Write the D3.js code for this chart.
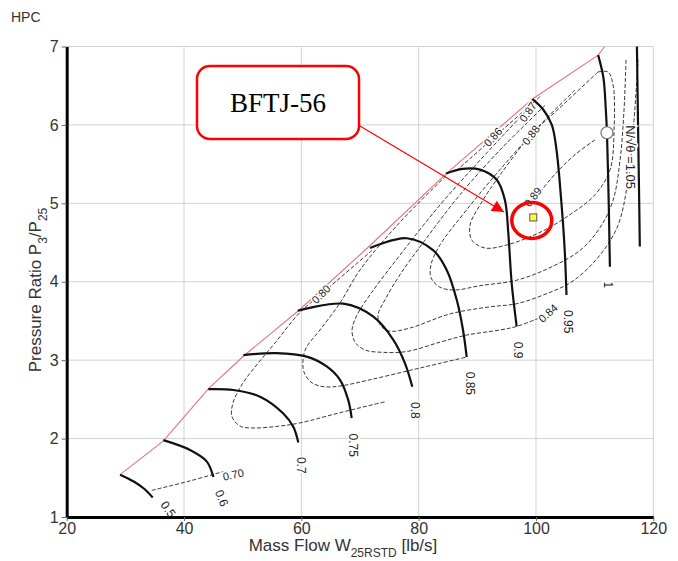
<!DOCTYPE html>
<html>
<head>
<meta charset="utf-8">
<script src="https://cdn.jsdelivr.net/npm/d3@7"></script>
<style>
  body { margin: 0; background: #fff; }
  text { font-family: "Liberation Sans", Arial, sans-serif; }
</style>
</head>
<body>
<div id="chart"></div>
<script>
// axis ticks
const xTicks = [20, 40, 60, 80, 100, 120];
const yTicks = [1, 2, 3, 4, 5, 6, 7];

// surge line (mass flow, pressure ratio)
const surgeLine = [[29.1, 1.54], [36.5, 1.97], [44.1, 2.63], [50.1, 3.05], [59.5, 3.63],
  [71.4, 4.44], [84.7, 5.38], [99.4, 6.33], [110.6, 6.89], [111.7, 7.0]];

// corrected speed lines
const speedLines = [
  { name: "0.5", pts: [[29.1, 1.54], [31.5, 1.45], [33.2, 1.36], [34.66, 1.25]] },
  { name: "0.6", pts: [[36.47, 1.98], [41.02, 1.855], [43.86, 1.71], [45.0, 1.51]] },
  { name: "0.7", pts: [[44.14, 2.63], [48.4, 2.62], [52.95, 2.535], [56.93, 2.32], [58.63, 2.15], [59.48, 1.95]] },
  { name: "0.75", pts: [[50.11, 3.065], [55.8, 3.09], [60.91, 3.045], [64.32, 2.92], [66.59, 2.75], [68.0, 2.49], [68.58, 2.26]] },
  { name: "0.8", pts: [[59.38, 3.63], [67.15, 3.72], [72.27, 3.555], [75.68, 3.26], [77.67, 2.96], [78.92, 2.66]] },
  { name: "0.85", pts: [[71.71, 4.43], [77.96, 4.555], [82.5, 4.4], [84.78, 4.15], [86.49, 3.77], [87.56, 3.385], [88.19, 3.04]] },
  { name: "0.9", pts: [[84.66, 5.38], [87.5, 5.44], [90.46, 5.43], [93.3, 5.3], [94.71, 5.04], [95.28, 4.62], [95.86, 3.98], [96.71, 3.43]] },
  { name: "0.95", pts: [[99.4, 6.33], [101.2, 6.2], [102.7, 6.0], [103.5, 5.68], [104.3, 5.04], [104.9, 4.4], [105.2, 3.83]] },
  { name: "1", pts: [[110.6, 6.89], [111.5, 6.6], [111.9, 6.2], [112.1, 5.9], [112.4, 5.0], [112.6, 4.19]] },
  { name: "1.05", pts: [[117.2, 7.05], [117.4, 6.0], [117.6, 5.0], [117.7, 4.45]] }
];

// efficiency contours (dashed)
const effLines = [
  [[34.5, 1.34], [41.0, 1.46], [46.7, 1.58]],
  [[72.05, 4.4], [63.35, 3.84], [59.77, 3.61], [55.51, 3.22], [52.61, 2.96], [50.06, 2.71], [48.35, 2.455],
   [48.18, 2.28], [49.54, 2.16], [51.76, 2.135], [56.36, 2.16], [59.77, 2.2], [66.59, 2.33], [74.26, 2.47]],
  [[84.66, 5.35], [76.82, 4.76], [70.0, 4.15], [66.59, 3.73], [63.18, 3.385], [60.8, 3.155], [60.28, 3.0],
   [60.45, 2.85], [61.82, 2.71], [64.03, 2.66], [66.59, 2.67], [71.71, 2.75], [78.53, 2.87], [83.64, 2.96], [88.19, 3.04]],
  [[98.13, 6.165], [90.46, 5.55], [83.64, 4.98], [76.82, 4.34], [72.05, 3.87], [69.49, 3.575], [68.64, 3.385],
   [69.15, 3.23], [70.85, 3.13], [73.92, 3.1], [77.96, 3.11], [83.64, 3.23], [88.19, 3.32], [93.86, 3.385], [96.71, 3.43], [100.3, 3.53]],
  [[101.54, 6.25], [93.86, 5.68], [87.04, 5.11], [81.08, 4.53], [76.82, 4.09], [74.26, 3.77], [73.07, 3.575],
   [73.58, 3.435], [75.12, 3.37], [78.53, 3.41], [85.34, 3.59], [92.16, 3.68], [96.71, 3.72], [101.54, 3.84],
   [106.31, 4.01], [110.91, 4.34], [113.98, 4.72], [115.69, 5.3], [116.71, 6.06], [117.4, 6.83]],
  [[106.65, 6.445], [100.69, 6.0], [93.86, 5.43], [87.89, 4.89], [83.64, 4.47], [82.11, 4.22], [82.11, 4.05],
   [83.64, 3.93], [86.19, 3.895], [90.46, 3.95], [96.71, 4.02], [102.39, 4.18], [107.51, 4.4], [110.91, 4.69],
   [113.14, 5.04], [114.33, 5.55], [115.01, 6.19], [115.35, 6.83]],
  [[110.57, 6.675], [104.95, 6.28], [99.15, 5.87], [93.86, 5.36], [90.46, 4.98], [88.75, 4.72], [89.09, 4.53],
   [91.31, 4.43], [95.05, 4.47], [100.69, 4.63], [105.29, 4.83], [110.06, 5.11], [112.63, 5.43], [113.31, 5.935],
   [113.14, 6.51], [112.28, 6.675], [110.57, 6.675]],
  [[100.69, 5.145], [103.58, 5.4], [106.65, 5.62], [110.06, 5.81]],
  [[100.69, 6.36], [92.67, 5.83], [86.19, 5.4]]
];

// labels: [text, x, y, rotation]
const speedLabels = [["0.5", 37.3, 1.1, 55], ["0.6", 46.42, 1.24, 68], ["0.7", 60.06, 1.66, 90],
  ["0.75", 68.86, 1.915, 90], ["0.8", 79.38, 2.36, 90], ["0.85", 88.75, 2.705, 90], ["0.9", 96.99, 3.13, 90],
  ["0.95", 105.51, 3.49, 90], ["1", 112.3, 3.96, 90], ["N/√θ =1.05", 116.05, 5.59, 90]];
const effLabels = [["0.70", 48.4, 1.54, -12], ["0.80", 63.35, 3.84, -45], ["0.86", 92.67, 5.845, -48],
  ["0.87", 98.64, 6.165, -55], ["0.88", 99.15, 5.87, -52], ["0.89", 99.49, 5.08, -52], ["0.84", 102.06, 3.6, -42]];

const designPoint = [112.1, 5.9];
const operatingPoint = [99.54, 4.82];

const W = 678, H = 561;
const svg = d3.select("#chart").append("svg").attr("width", W).attr("height", H);

const x = d3.scaleLinear().domain([20, 120]).range([66.7, 653.3]);
const y = d3.scaleLinear().domain([1, 7]).range([517, 46.5]);

svg.append("defs").append("clipPath").attr("id", "plot")
  .append("rect").attr("x", x(20)).attr("y", y(7)).attr("width", x(120) - x(20)).attr("height", y(1) - y(7));

svg.append("text").attr("x", 11).attr("y", 22).style("font-size", "14px").style("fill", "#333").text("HPC");

// grid
svg.append("g").selectAll("line").data(xTicks).enter().append("line")
  .attr("x1", d => x(d)).attr("x2", d => x(d)).attr("y1", y(1)).attr("y2", y(7))
  .attr("stroke", "#d2d2d2").attr("stroke-width", 1);
svg.append("g").selectAll("line").data(yTicks).enter().append("line")
  .attr("x1", x(20)).attr("x2", x(120)).attr("y1", d => y(d)).attr("y2", d => y(d))
  .attr("stroke", "#d2d2d2").attr("stroke-width", 1);

const plot = svg.append("g").attr("clip-path", "url(#plot)");
const line = d3.line().x(d => x(d[0])).y(d => y(d[1])).curve(d3.curveCatmullRom.alpha(0.5));

plot.selectAll("path.eff").data(effLines).enter().append("path").attr("class", "eff")
  .attr("d", line).attr("fill", "none").attr("stroke", "#222")
  .attr("stroke-width", 0.9).attr("stroke-dasharray", "4,2");

plot.append("path").datum(surgeLine)
  .attr("d", d3.line().x(d => x(d[0])).y(d => y(d[1])))
  .attr("fill", "none").attr("stroke", "#e07482").attr("stroke-width", 1.1);

plot.selectAll("path.speed").data(speedLines).enter().append("path").attr("class", "speed")
  .attr("d", d => line(d.pts)).attr("fill", "none").attr("stroke", "#111").attr("stroke-width", 2.2);

plot.selectAll("text.eff").data(effLabels).enter().append("text").attr("class", "eff")
  .attr("transform", d => `translate(${x(d[1])},${y(d[2])}) rotate(${d[3]})`)
  .attr("text-anchor", "middle").attr("dy", "0.35em")
  .style("font-size", "11px").style("fill", "#222")
  .style("stroke", "#fff").style("stroke-width", 3).style("paint-order", "stroke")
  .text(d => d[0]);

plot.selectAll("text.speed").data(speedLabels).enter().append("text").attr("class", "speed")
  .attr("transform", d => `translate(${x(d[1])},${y(d[2])}) rotate(${d[3]})`)
  .attr("text-anchor", "middle").attr("dy", "0.35em")
  .style("font-size", d => d[0].length > 5 ? "13px" : "12px").style("fill", "#222")
  .style("stroke", "#fff").style("stroke-width", 3).style("paint-order", "stroke")
  .text(d => d[0]);

plot.append("circle").attr("cx", x(designPoint[0])).attr("cy", y(designPoint[1])).attr("r", 6)
  .attr("fill", "#fff").attr("stroke", "#777").attr("stroke-width", 1.2);

plot.append("rect").attr("x", x(operatingPoint[0]) - 3.5).attr("y", y(operatingPoint[1]) - 3.5)
  .attr("width", 7).attr("height", 7).attr("fill", "#ffff3a").attr("stroke", "#555").attr("stroke-width", 1);

// axes
const yAxis = svg.append("g").attr("transform", `translate(${x(20)},0)`)
  .call(d3.axisLeft(y).tickValues(yTicks).tickFormat(d3.format("d"))
    .tickSize(5).tickSizeOuter(0).tickPadding(3));
const xAxis = svg.append("g").attr("transform", `translate(0,${y(1)})`)
  .call(d3.axisBottom(x).tickValues(xTicks).tickFormat(d3.format("d"))
    .tickSize(4).tickSizeOuter(0).tickPadding(2));
[xAxis, yAxis].forEach(a => {
  a.select(".domain").attr("stroke", "#000").attr("stroke-width", 3);
  a.selectAll(".tick line").attr("stroke", "#666");
  a.selectAll(".tick text").style("font-size", "16px").style("fill", "#333")
    .style("font-family", "'Liberation Sans', Arial, sans-serif");
});

const xt = svg.append("text").attr("x", 343).attr("y", 551).attr("text-anchor", "middle")
  .style("font-size", "17px").style("fill", "#333");
xt.append("tspan").text("Mass Flow W");
xt.append("tspan").attr("dy", 6).style("font-size", "12px").text("25RSTD");
xt.append("tspan").attr("dy", -6).text("  [lb/s]");

const yt = svg.append("text").attr("transform", "translate(41,290) rotate(-90)").attr("text-anchor", "middle")
  .style("font-size", "17px").style("fill", "#333");
yt.append("tspan").text("Pressure Ratio P");
yt.append("tspan").attr("dy", 6).style("font-size", "12px").text("3");
yt.append("tspan").attr("dy", -6).text("/P");
yt.append("tspan").attr("dy", 6).style("font-size", "12px").text("25");

// annotation
svg.append("defs").append("marker").attr("id", "arrow").attr("viewBox", "0 0 10 10")
  .attr("refX", 10).attr("refY", 5).attr("markerWidth", 16).attr("markerHeight", 12)
  .attr("markerUnits", "userSpaceOnUse").attr("orient", "auto")
  .append("path").attr("d", "M0,0L10,5L0,10Z").attr("fill", "#f00");

svg.append("rect").attr("x", 197).attr("y", 66).attr("width", 162).attr("height", 73)
  .attr("rx", 13).attr("fill", "#fff").attr("stroke", "#f00").attr("stroke-width", 2.5);
svg.append("text").attr("x", 278).attr("y", 112).attr("text-anchor", "middle")
  .style("font-family", "'Liberation Serif', 'Times New Roman', serif").style("font-size", "27px")
  .style("fill", "#000").text("BFTJ-56");
svg.append("line").attr("x1", 360).attr("y1", 126).attr("x2", 504).attr("y2", 212)
  .attr("stroke", "#f00").attr("stroke-width", 1.2).attr("marker-end", "url(#arrow)");
svg.append("ellipse").attr("cx", x(operatingPoint[0]) - 1.5).attr("cy", y(operatingPoint[1]) + 3)
  .attr("rx", 20).attr("ry", 18).attr("fill", "none").attr("stroke", "#f00").attr("stroke-width", 3.5);
</script>
</body>
</html>
